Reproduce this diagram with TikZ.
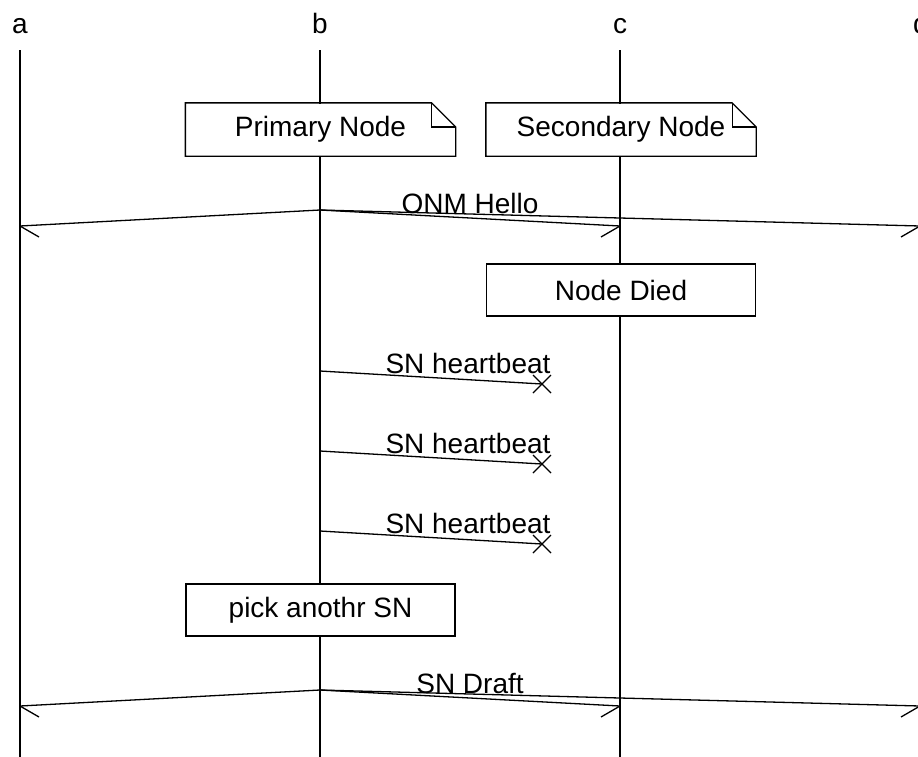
\documentclass[tikz,border=0pt]{standalone}
\usepackage{fontspec}
\setmainfont{Liberation Sans}
\begin{document}
\begin{tikzpicture}[x=1pt,y=-1pt,line width=1.3pt,
  every node/.style={font=\fontsize{28}{34}\selectfont},
  life/.style={line width=1.3pt},
  msg/.style={line width=1.3pt},
  barb/.style={line width=1.3pt},
  boxnode/.style={draw,fill=white,minimum width=269pt,minimum height=52pt,inner sep=0pt},
  notenode/.style={fill=white,minimum width=269pt,minimum height=52pt,inner sep=0pt},
  lbl/.style={anchor=base,inner sep=0pt}]
\useasboundingbox (0,0) rectangle (918,756);
\clip (0,0) rectangle (918,756);

% instance names
\node[lbl] (ha) at (20,33) {a};
\node[lbl] (hb) at (320,33) {b};
\node[lbl] (hc) at (620,33) {c};
\node[lbl] (hd) at (921,33) {d};

% lifelines
\foreach \n/\x in {a/20,b/320,c/620,d/920}{
  \coordinate (\n top) at (\x,50);
  \coordinate (\n bot) at (\x,760);
  \draw[life] (\n top) -- (\n bot);
}

% dog-eared notes
\node[notenode] (pn) at (320.5,129.5) {Primary Node};
\node[notenode] (sn) at (621,129.5) {Secondary Node};
\foreach \m in {pn,sn}{
  \draw (\m.south west) -- (\m.north west) -- ([xshift=-24pt]\m.north east)
        -- ([yshift=-24pt]\m.north east) -- (\m.south east) -- cycle;
  \draw ([xshift=-24pt]\m.north east) |- ([yshift=-24pt]\m.north east);
}

% broadcast: ONM Hello
\coordinate (o0) at (320,210);
\coordinate (oa) at (20,226);
\coordinate (oc) at (620,226);
\coordinate (od) at (920,226);
\draw[msg] (o0) -- (oa);
\draw[msg] (o0) -- (oc);
\draw[msg] (o0) -- (od);
\draw[barb] (oa) -- ++(19,11);
\draw[barb] (oc) -- ++(-19,11);
\draw[barb] (od) -- ++(-19,11);
\node[lbl] (onm) at (470,213) {ONM Hello};

% state box
\node[boxnode] (died) at (621,290) {Node Died};

% lost heartbeats
\foreach \i/\y in {1/371,2/451,3/531}{
  \coordinate (h\i s) at (320,\y);
  \coordinate (h\i e) at (542,\y+13);
  \draw[msg] (h\i s) -- (h\i e);
  \draw[barb] (h\i e) +(-9,-9) -- +(9,9);
  \draw[barb] (h\i e) +(-9,9) -- +(9,-9);
  \node[lbl] (hl\i) at (468,\y+2) {SN heartbeat};
}

% action box
\node[boxnode] (pick) at (320.5,610) {pick anothr SN};

% broadcast: SN Draft
\coordinate (s0) at (320,690);
\coordinate (sa) at (20,706);
\coordinate (sc) at (620,706);
\coordinate (sd) at (920,706);
\draw[msg] (s0) -- (sa);
\draw[msg] (s0) -- (sc);
\draw[msg] (s0) -- (sd);
\draw[barb] (sa) -- ++(19,11);
\draw[barb] (sc) -- ++(-19,11);
\draw[barb] (sd) -- ++(-19,11);
\node[lbl] (draft) at (470,693) {SN Draft};
\end{tikzpicture}
\end{document}
